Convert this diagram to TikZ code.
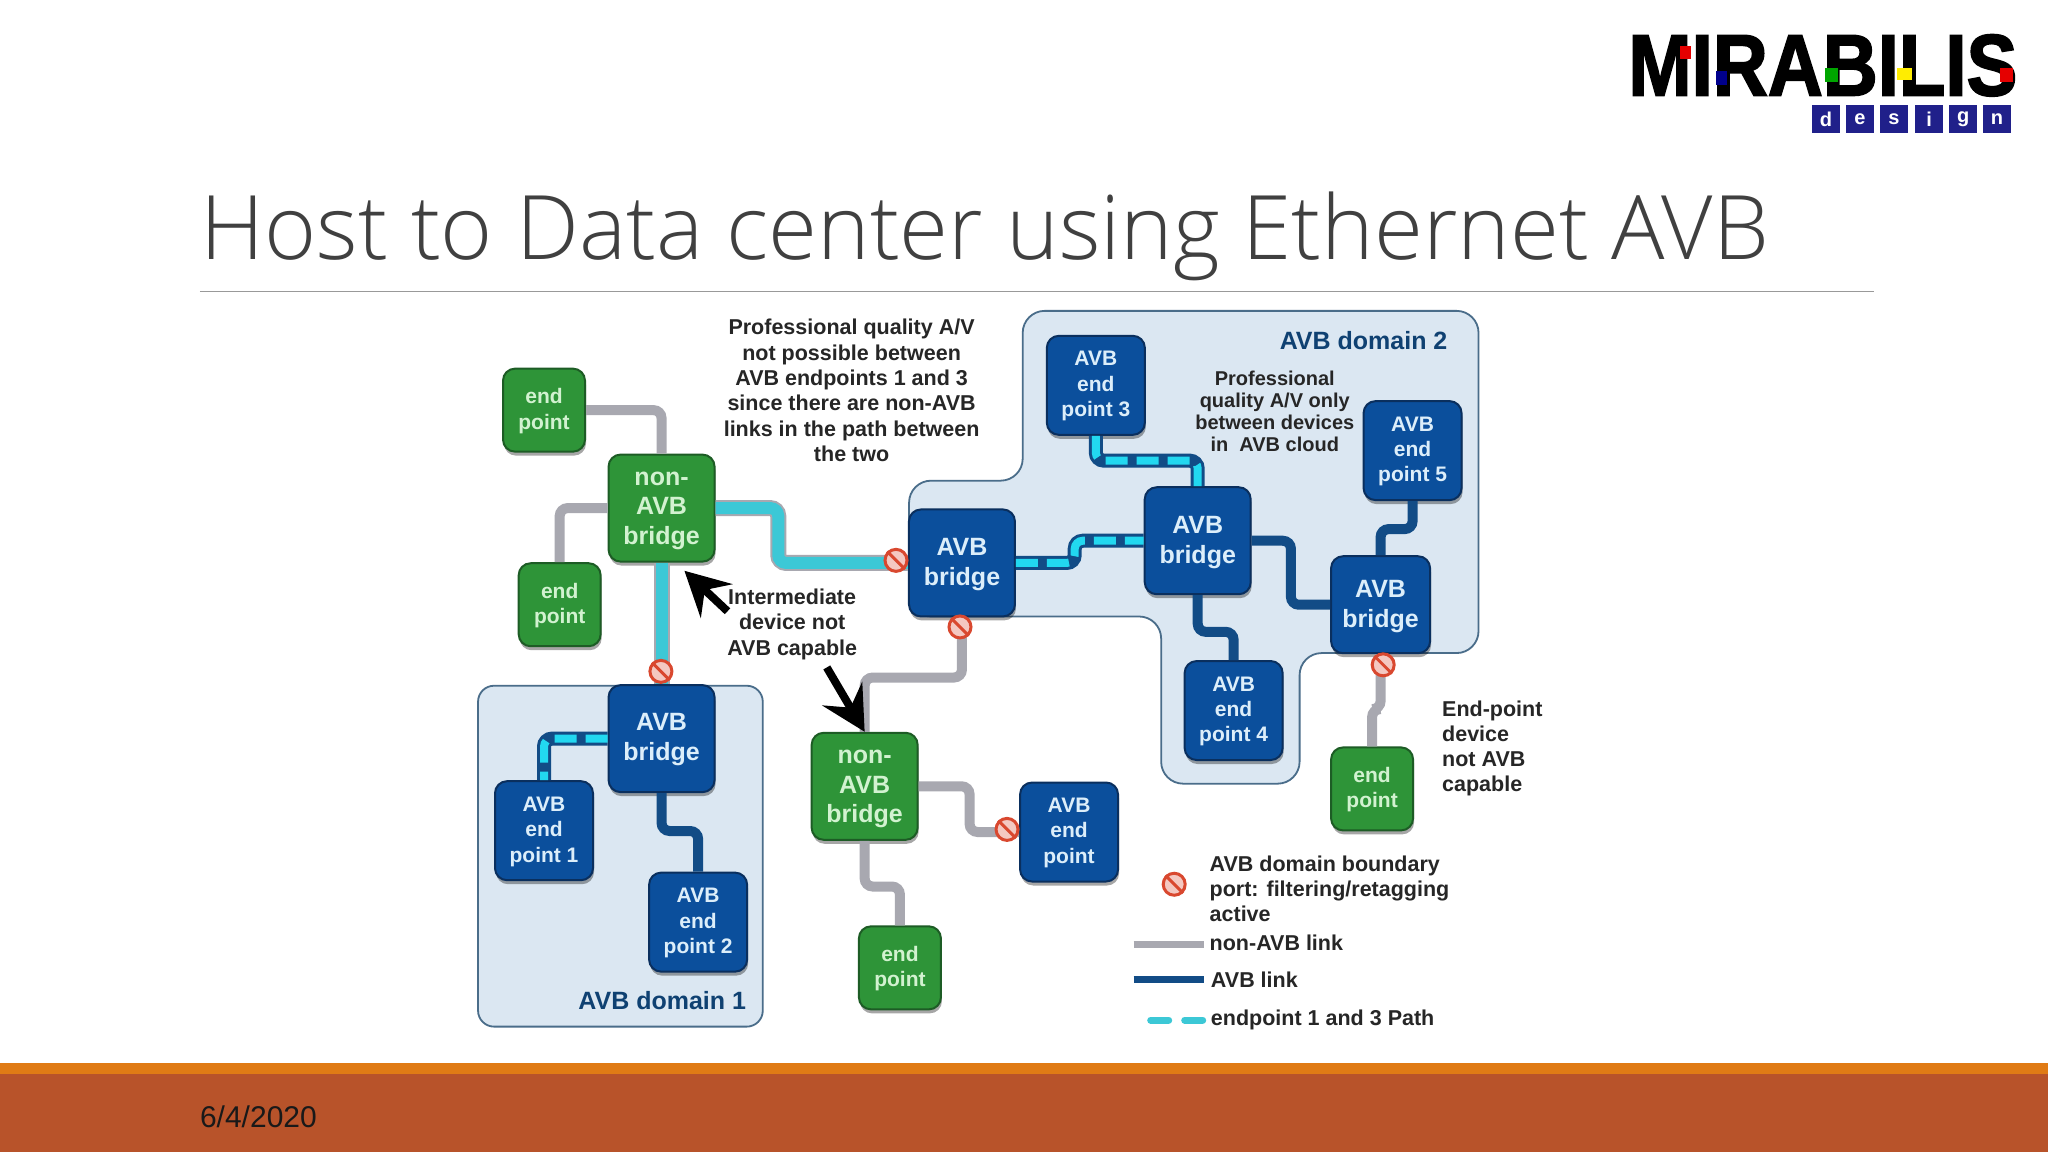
\documentclass[tikz,border=0pt]{standalone}
\usepackage{fontspec}
\usepackage{graphicx}
\setmainfont{Liberation Sans}
\newfontfamily\titlefont{Open Sans Light}
\newfontfamily\logofont[BoldFeatures={FakeBold=2.2}]{Liberation Sans}
\usetikzlibrary{arrows.meta,shadows,calc}
\definecolor{navyn}{HTML}{0B4F9C}
\definecolor{navye}{HTML}{0A2F5E}
\definecolor{greenn}{HTML}{2E9438}
\definecolor{greene}{HTML}{1D5C25}
\definecolor{domf}{HTML}{DBE7F2}
\definecolor{dome}{HTML}{4A6D8A}
\definecolor{greyl}{HTML}{A8A8B0}
\definecolor{navyl}{HTML}{124C86}
\definecolor{cyanl}{HTML}{3CC8D6}
\definecolor{cyand}{HTML}{22D8F0}
\definecolor{stopc}{HTML}{D9482F}
\definecolor{txtl}{HTML}{DCEEFA}
\definecolor{txtg}{HTML}{D2F2D0}
\definecolor{bando}{HTML}{E07B15}
\definecolor{bandr}{HTML}{B8532A}
\definecolor{logob}{HTML}{20208A}
\tikzset{
  dev/.style={rounded corners=12pt,line width=2pt,align=center,inner sep=0pt,text depth=2.5pt,
    drop shadow={shadow xshift=1pt,shadow yshift=-4pt,fill=black,opacity=.35}},
  bluebr/.style={dev,fill=navyn,draw=navye,text=txtl,minimum width=106pt,minimum height=107pt,
    font=\fontsize{25}{30}\selectfont\bfseries},
  blueep/.style={dev,fill=navyn,draw=navye,text=txtl,minimum width=98pt,minimum height=99pt,
    font=\fontsize{21}{25.4}\selectfont\bfseries},
  greenbr/.style={dev,text depth=0pt,fill=greenn,draw=greene,text=txtg,minimum width=106pt,minimum height=107pt,
    font=\fontsize{25}{29.5}\selectfont\bfseries},
  greenep/.style={dev,fill=greenn,draw=greene,text=txtg,minimum width=82pt,minimum height=83pt,
    font=\fontsize{21}{25.4}\selectfont\bfseries},
  note/.style={align=center,inner sep=0pt,text=black!85,font=\fontsize{21.5}{25.3}\selectfont\bfseries},
  notel/.style={note,align=left,anchor=west},
  dombox/.style={fill=domf,draw=dome,line width=1.8pt,rounded corners=22pt},
  domlab/.style={inner sep=0pt,text=navyl!85!black,font=\fontsize{25}{30}\selectfont\bfseries},
  linkg/.style={draw=greyl,line width=10pt,rounded corners=8pt},
  linka/.style={draw=navyl,line width=10pt,rounded corners=8pt},
  linkb/.style={draw=navyl,line width=14pt,rounded corners=8pt},
  linkh/.style={draw=greyl,line width=16pt,rounded corners=8pt},
  linkc/.style={draw=cyanl,line width=12pt,rounded corners=8pt},
  dashc/.style={draw=cyand,line width=8pt,rounded corners=8pt,dash pattern=on 22pt off 9pt},
  arrowcall/.style={draw=black,line width=8pt,-{Stealth[length=44pt,width=46pt,inset=16pt]}},
  stopo/.style={circle,draw=stopc,fill=stopc!30,line width=3pt,minimum size=22pt,inner sep=0pt},
  stopb/.style={draw=stopc,line width=3pt},
  logobox/.style={fill=logob,minimum width=28pt,minimum height=28pt,inner sep=0pt,text=white,
    font=\fontsize{20}{20}\selectfont\bfseries}
}
\newcommand{\stopmark}[2]{\node[stopo] (#1) at (#2) {};\draw[stopb] (#1.north west) -- (#1.south east);}
\begin{document}
\begin{tikzpicture}[x=1.306122pt,y=-1.306122pt]
\useasboundingbox (0,0) rectangle (1568,882);
% slide frame
\fill[white] (0,0) rectangle (1568,882);
\fill[bando] (0,814) rectangle (1568,822);
\fill[bandr] (0,822) rectangle (1568,882);
\node[anchor=base west,inner sep=0pt,text=black!90,font=\fontsize{30}{30}\selectfont] (date) at (153,863) {6/4/2020};
\node[anchor=base west,inner sep=0pt,text=black!75,font=\fontsize{89}{89}\selectfont\titlefont] (title) at (153.5,198.5) {Host to Data center using Ethernet AVB};
\draw[black!40,line width=1.2pt] (153,223) -- (1435,223);
% logo
\node[anchor=base west,inner sep=0pt,font=\fontsize{87}{87}\selectfont\logofont\bfseries] (logo) at (1246.5,73) {\scalebox{0.875}[1]{MIRABILIS}};
\fill[red!90!black] (1286,35) rectangle (1295,45);
\fill[blue!55!black] (1314,54) rectangle (1322,65);
\fill[green!65!black] (1397,52) rectangle (1407,63);
\fill[yellow!95!orange] (1452,52) rectangle (1464,61);
\fill[red!90!black] (1531,52) rectangle (1541,63);
\node[logobox] (ld1) at (1398,91) {d};
\node[logobox] (ld2) at (1424,91) {e};
\node[logobox] (ld3) at (1450,91) {s};
\node[logobox] (ld4) at (1477,91) {i};
\node[logobox] (ld5) at (1503,91) {g};
\node[logobox] (ld6) at (1529,91) {n};
% domains
\path[dombox,rounded corners=16pt] (366,525) rectangle (584,786);
\path[dombox] (783,238) -- (1132,238) -- (1132,500) -- (995,500) -- (995,600) -- (889,600) -- (889,472) -- (696,472) -- (696,368) -- (783,368) -- cycle;
\node[domlab] (dl2) at (1044,261) {AVB domain 2};
\node[domlab] (dl1) at (507,766) {AVB domain 1};
% devices
\node[greenep] (ep1) at (416.5,314) {end\\point};
\node[greenbr] (non1) at (506.5,389) {non-\\AVB\\bridge};
\node[greenep] (ep2) at (428.5,463) {end\\point};
\node[bluebr] (A) at (736.5,431) {AVB\\bridge};
\node[blueep] (e3) at (839,295) {AVB\\end\\point 3};
\node[bluebr] (B) at (917,414) {AVB\\bridge};
\node[blueep] (e5) at (1081.5,345) {AVB\\end\\point 5};
\node[bluebr,minimum width=99pt,minimum height=97pt] (C) at (1057,463) {AVB\\bridge};
\node[blueep] (e4) at (944.5,544) {AVB\\end\\point 4};
\node[greenep] (ep3) at (1050.5,604) {end\\point};
\node[bluebr] (D) at (506.5,565.5) {AVB\\bridge};
\node[blueep] (e1) at (416.5,636) {AVB\\end\\point 1};
\node[blueep] (e2) at (534.5,706) {AVB\\end\\point 2};
\node[greenbr] (non2) at (662,602) {non-\\AVB\\bridge};
\node[blueep] (e6) at (818.5,637) {AVB\\end\\point};
\node[greenep] (ep4) at (689,741) {end\\point};
% connectors: non-AVB
\draw[linkg] (ep1.east) -| (non1.north);
\draw[linkg] (non1.west) -| (ep2.north);
\draw[linkg] (A.south) -- ++(0,46) -| (non2.north);
\draw[linkg] (non2.east) -- ++(39,0) |- (e6.west);
\draw[linkg] (non2.south) -- ++(0,35) -| (ep4.north);
\draw[linkg] (C.south) -- ++(0,42) -| (ep3.north);
% connectors: AVB
\draw[linka] (D.south) -- ++(0,29) -| (e2.north);
\draw[linka] (B.east) -- ++(30,0) |- (C.west);
\draw[linka] (B.south) -- ++(0,28) -| (e4.north);
\draw[linka] (C.north) -- ++(0,-20) -| (e5.south);
% connectors: endpoint 1 and 3 path
\draw[linkh] (non1.east) -- ++(48,0) |- (A.west);
\draw[linkc] (non1.east) -- ++(48,0) |- (A.west);
\draw[linkh] (non1.south) -- (D.north);
\draw[linkc] (non1.south) -- (D.north);
\draw[linkb] (D.west) -| (e1.north);
\draw[dashc] (D.west) -| (e1.north);
\draw[linkb] (A.east) -- ++(45,0) |- (B.west);
\draw[dashc] (A.east) -- ++(45,0) |- (B.west);
\draw[linkb] (e3.south) -- ++(0,19) -| (B.north);
\draw[dashc] (e3.south) -- ++(0,19) -| (B.north);
% boundary ports
\stopmark{s1}{686,429}
\stopmark{s2}{735,480}
\stopmark{s3}{506,514}
\stopmark{s4}{1059,509}
\stopmark{s5}{771,635}
\stopmark{s6}{899,677}
% texts
\node[note] (t1) at (652,299) {Professional quality A/V\\not possible between\\AVB endpoints 1 and 3\\since there are non-AVB\\links in the path between\\the two};
\node[note,font=\fontsize{20}{22}\selectfont\bfseries] (t2) at (976,315) {Professional\\quality A/V only\\between devices\\in\ \ AVB cloud};
\node[note] (t3) at (606.5,478) {Intermediate\\device not\\AVB capable};
\node[notel] (t4) at (1104,573) {End-point\\device\\not AVB\\capable};
\node[notel] (t5) at (926,680.5) {AVB domain boundary\\port: filtering/retagging\\active};
% callout arrows
\coordinate (c1) at (557,468);
\coordinate (c1t) at (524,437);
\coordinate (c2) at (633,511);
\draw[arrowcall] (c1) -- (c1t);
\draw[arrowcall] (c2) -- (non2.north);
% legend
\coordinate (lg1) at (868,723); \coordinate (lg2) at (922,723);
\coordinate (lb1) at (868,750); \coordinate (lb2) at (922,750);
\coordinate (lc1) at (881,781); \coordinate (lc2) at (925,781);
\draw[draw=greyl,line width=7pt] (lg1) -- (lg2);
\draw[draw=navyl,line width=7pt] (lb1) -- (lb2);
\draw[draw=cyanl,line width=7pt,line cap=round,dash pattern=on 18pt off 16pt] (lc1) -- (lc2);
\node[notel] (t6) at (926,722) {non-AVB link};
\node[notel] (t7) at (927,750) {AVB link};
\node[notel] (t8) at (927,781) {endpoint 1 and 3 Path};
\end{tikzpicture}
\end{document}
